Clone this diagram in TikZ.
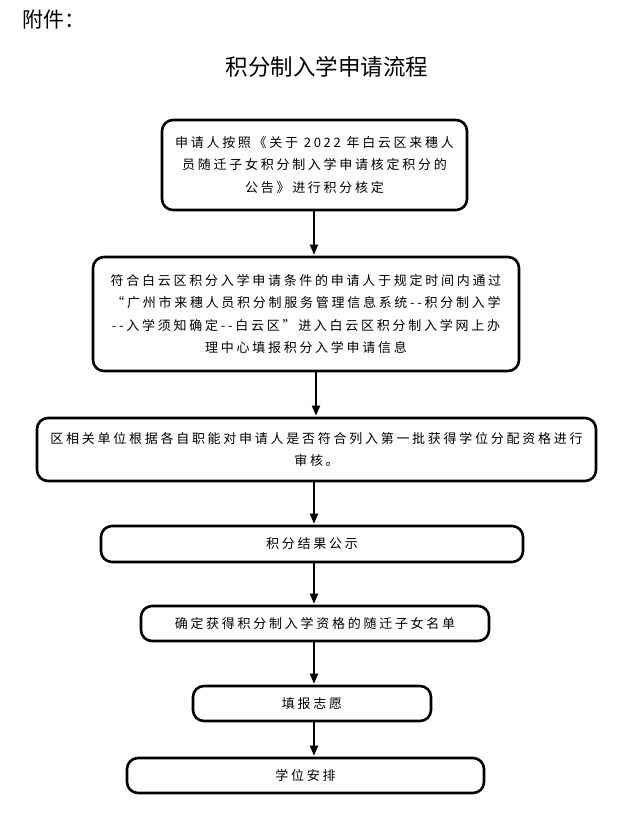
\documentclass[tikz,border=0pt]{standalone}
\usepackage{fontspec}
\setmainfont{Noto Sans CJK SC}
\newfontfamily\cjkbox[LetterSpace=21]{Noto Sans CJK SC}
\newcommand{\boxfont}{\cjkbox\fontsize{13pt}{22.5pt}\selectfont}
\newcommand{\headfont}{\fontsize{21pt}{24pt}\selectfont}
\newcommand{\titlefont}{\fontsize{22.5pt}{26pt}\selectfont}
\usetikzlibrary{arrows.meta}
\begin{document}
\begin{tikzpicture}[x=1pt, y=-1pt, >={Triangle[length=10pt,width=8pt]},
    flowbox/.style={draw, line width=2.6pt, rounded corners=11pt, align=center, font=\boxfont, inner sep=0pt},
    flowline/.style={->, line width=1.8pt, shorten >=1pt}]
    \useasboundingbox (0,0) rectangle (620,816);
    % Intestazione
    \node[anchor=west, font=\headfont, inner sep=0pt] (annex) at (22,20) {附件：};
    \node[font=\titlefont] (title) at (327,67) {积分制入学申请流程};
    % Blocchi del flusso
    \node[flowbox, minimum width=305pt, minimum height=90pt] (verify) at (314.5,165) {申请人按照《关于 2022 年白云区来穗人\\员随迁子女积分制入学申请核定积分的\\公告》进行积分核定};
    \node[flowbox, minimum width=426pt, minimum height=114pt] (online) at (306,314) {符合白云区积分入学申请条件的申请人于规定时间内通过\\“广州市来穗人员积分制服务管理信息系统--积分制入学\\--入学须知确定--白云区”进入白云区积分制入学网上办\\理中心填报积分入学申请信息};
    \node[flowbox, minimum width=559pt, minimum height=63pt] (review) at (316.5,449.5) {区相关单位根据各自职能对申请人是否符合列入第一批获得学位分配资格进行\\审核。};
    \node[flowbox, minimum width=422pt, minimum height=36pt] (publicity) at (312,544) {积分结果公示};
    \node[flowbox, minimum width=348pt, minimum height=35pt] (namelist) at (315,623.5) {确定获得积分制入学资格的随迁子女名单};
    \node[flowbox, minimum width=238pt, minimum height=35pt] (wish) at (312,703.5) {填报志愿};
    \node[flowbox, minimum width=357pt, minimum height=35pt] (place) at (305.5,775.5) {学位安排};
    % Frecce
    \coordinate (axis) at (314,0);
    \draw[flowline] (axis |- verify.south) -- (axis |- online.north);
    \draw[flowline] ([xshift=2pt]axis |- online.south) -- ([xshift=2pt]axis |- review.north);
    \draw[flowline] (axis |- review.south) -- (axis |- publicity.north);
    \draw[flowline] (axis |- publicity.south) -- (axis |- namelist.north);
    \draw[flowline] (axis |- namelist.south) -- (axis |- wish.north);
    \draw[flowline] (axis |- wish.south) -- (axis |- place.north);
\end{tikzpicture}
\end{document}
